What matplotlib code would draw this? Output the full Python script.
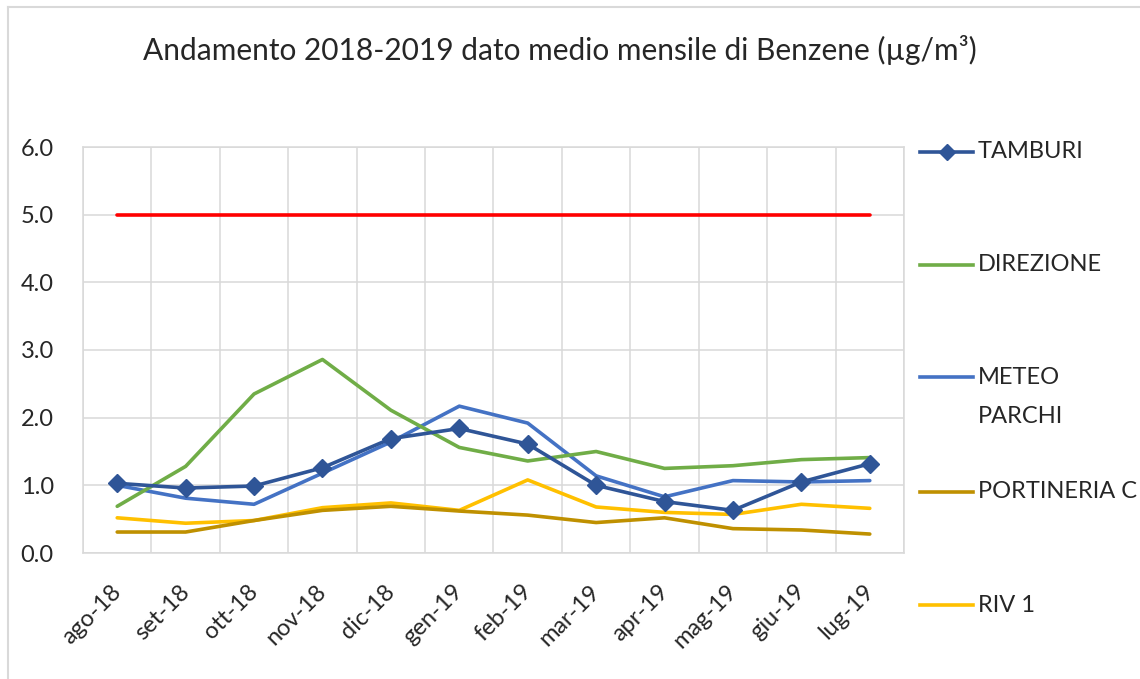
import numpy as np
import matplotlib
matplotlib.use('Agg')
import matplotlib.pyplot as plt
import matplotlib.transforms as mtransforms
from matplotlib.lines import Line2D

plt.rcParams['font.family'] = ['Lato', 'DejaVu Sans']

months = ['ago-18', 'set-18', 'ott-18', 'nov-18', 'dic-18', 'gen-19',
          'feb-19', 'mar-19', 'apr-19', 'mag-19', 'giu-19', 'lug-19']

tamburi = [1.03, 0.96, 0.99, 1.26, 1.69, 1.84, 1.61, 1.00, 0.76, 0.63, 1.05, 1.32]
direzione = [0.69, 1.28, 2.35, 2.86, 2.11, 1.56, 1.36, 1.50, 1.25, 1.29, 1.38, 1.41]
meteo_parchi = [1.00, 0.81, 0.72, 1.18, 1.64, 2.17, 1.92, 1.14, 0.83, 1.07, 1.05, 1.07]
portineria_c = [0.31, 0.31, 0.48, 0.63, 0.69, 0.62, 0.56, 0.45, 0.52, 0.36, 0.34, 0.28]
riv1 = [0.52, 0.44, 0.48, 0.67, 0.74, 0.63, 1.08, 0.68, 0.60, 0.57, 0.72, 0.66]
limite = [5.0] * 12

C_TAM = '#2F5597'
C_DIR = '#70AD47'
C_MET = '#4472C4'
C_POR = '#BF9000'
C_RIV = '#FFC000'
C_LIM = '#FF0000'
C_GRID = '#D9D9D9'
C_TXT = '#262626'

W, H = 1140, 679
fig = plt.figure(figsize=(W / 100, H / 100), dpi=100)
ax = fig.add_axes([83 / W, 1 - 553 / H, (904 - 83) / W, (553 - 147) / H])

x = np.arange(len(months))
lw = 2.6
ax.plot(x, limite, color=C_LIM, lw=lw, solid_capstyle='round')
ax.plot(x, riv1, color=C_RIV, lw=lw, solid_capstyle='round')
ax.plot(x, portineria_c, color=C_POR, lw=lw, solid_capstyle='round')
ax.plot(x, meteo_parchi, color=C_MET, lw=lw, solid_capstyle='round')
ax.plot(x, direzione, color=C_DIR, lw=lw, solid_capstyle='round')
ax.plot(x, tamburi, color=C_TAM, lw=lw, marker='D', ms=9.5, solid_capstyle='round')

ax.set_xlim(-0.5, len(months) - 0.5)
ax.set_ylim(0, 6)
ax.set_yticks(np.arange(0, 6.1, 1.0))
ax.set_yticklabels([f'{v:.1f}' for v in np.arange(0, 6.1, 1.0)])
ax.set_xticks(x)
ax.set_xticklabels(months, rotation=45, ha='right', rotation_mode='anchor')
ax.set_xticks(np.arange(-0.5, len(months), 1.0), minor=True)
ax.tick_params(axis='both', which='both', length=0, labelsize=17, colors=C_TXT)
ax.tick_params(axis='y', pad=21)
ax.tick_params(axis='x', pad=20)
shift = mtransforms.ScaledTranslation(-7 / 100, 0, fig.dpi_scale_trans)
for lab in ax.get_xticklabels():
    lab.set_transform(lab.get_transform() + shift)
ax.grid(True, which='minor', axis='x', color=C_GRID, lw=1.1)
ax.grid(True, which='major', axis='y', color=C_GRID, lw=1.1)
ax.set_axisbelow(True)
for s in ax.spines.values():
    s.set_color(C_GRID)
    s.set_linewidth(1.1)

fig.text(560 / W, 1 - 50 / H, 'Andamento 2018-2019 dato medio mensile di Benzene (µg/m³)',
         ha='center', va='center', fontsize=21.5, color=C_TXT)

# legenda a destra
leg_items = [
    ('TAMBURI', C_TAM, 'D', 152),
    ('DIREZIONE', C_DIR, None, 265),
    ('METEO', C_MET, None, 377),
    ('PORTINERIA C', C_POR, None, 492),
    ('RIV 1', C_RIV, None, 605),
]
for label, col, mk, yp in leg_items:
    yf = 1 - yp / H
    fig.add_artist(Line2D([920 / W, 973 / W], [yf, yf], color=col, lw=lw))
    if mk:
        fig.add_artist(Line2D([946.5 / W], [yf], color=col, marker=mk, ms=8))
    fig.text(978 / W, yf, label, ha='left', va='center', fontsize=17, color=C_TXT)
fig.text(978 / W, 1 - 416 / H, 'PARCHI', ha='left', va='center', fontsize=17, color=C_TXT)

# cornice del grafico
fig.add_artist(Line2D([8 / W, 8 / W], [0, 1 - 7 / H], color=C_GRID, lw=1.5))
fig.add_artist(Line2D([8 / W, 1], [1 - 7 / H, 1 - 7 / H], color=C_GRID, lw=1.5))

fig.savefig('out.png', dpi=100)
